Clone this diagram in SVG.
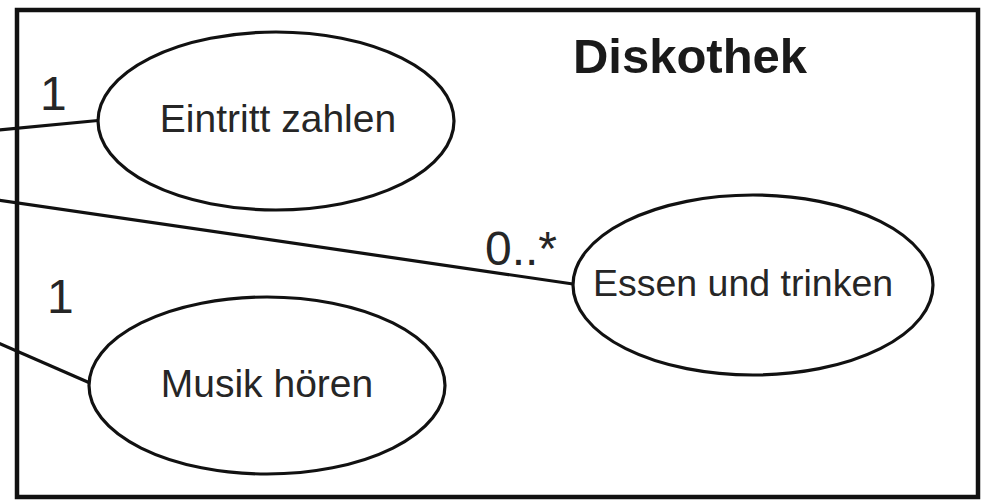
<svg xmlns="http://www.w3.org/2000/svg" width="988" height="501" viewBox="0 0 988 501">
  <style>
    .boundary { fill: #ffffff; stroke: #111111; stroke-width: 4.5; }
    .usecase { fill: #ffffff; stroke: #111111; stroke-width: 3.2; }
    .assoc { stroke: #111111; stroke-width: 3.2; fill: none; }
    .label { font-family: "Liberation Sans", Arial, sans-serif; fill: #262626; }
    .uc-text { font-size: 39px; text-anchor: middle; }
    .mult { font-size: 48px; }
    .title { font-size: 49px; font-weight: bold; text-anchor: middle; fill: #1a1a1a; }
  </style>
  <rect x="0" y="0" width="988" height="501" fill="#ffffff"/>

  <!-- System boundary -->
  <g id="system">
    <rect class="boundary" x="17" y="10" width="961" height="487"/>
    <text class="label title" x="690" y="73">Diskothek</text>
  </g>

  <!-- Associations from the actor (outside, left) -->
  <g id="connectors">
    <line class="assoc" x1="-2" y1="130" x2="98" y2="120.5"/>
    <line class="assoc" x1="-2" y1="200" x2="573" y2="284"/>
    <line class="assoc" x1="-2" y1="343" x2="90" y2="383"/>
    <text class="label mult" x="40" y="110">1</text>
    <text class="label mult" x="485" y="265">0..*</text>
    <text class="label mult" x="47" y="313">1</text>
  </g>

  <g id="uc-eintritt">
    <ellipse class="usecase" cx="276" cy="121" rx="178" ry="89"/>
    <text class="label uc-text" x="278" y="132">Eintritt zahlen</text>
  </g>

  <g id="uc-essen">
    <ellipse class="usecase" cx="753" cy="285" rx="180" ry="90"/>
    <text class="label uc-text" x="743" y="296" style="font-size:37.5px">Essen und trinken</text>
  </g>

  <g id="uc-musik">
    <ellipse class="usecase" cx="267" cy="385.5" rx="178" ry="88.5"/>
    <text class="label uc-text" x="267" y="397">Musik hören</text>
  </g>
</svg>
